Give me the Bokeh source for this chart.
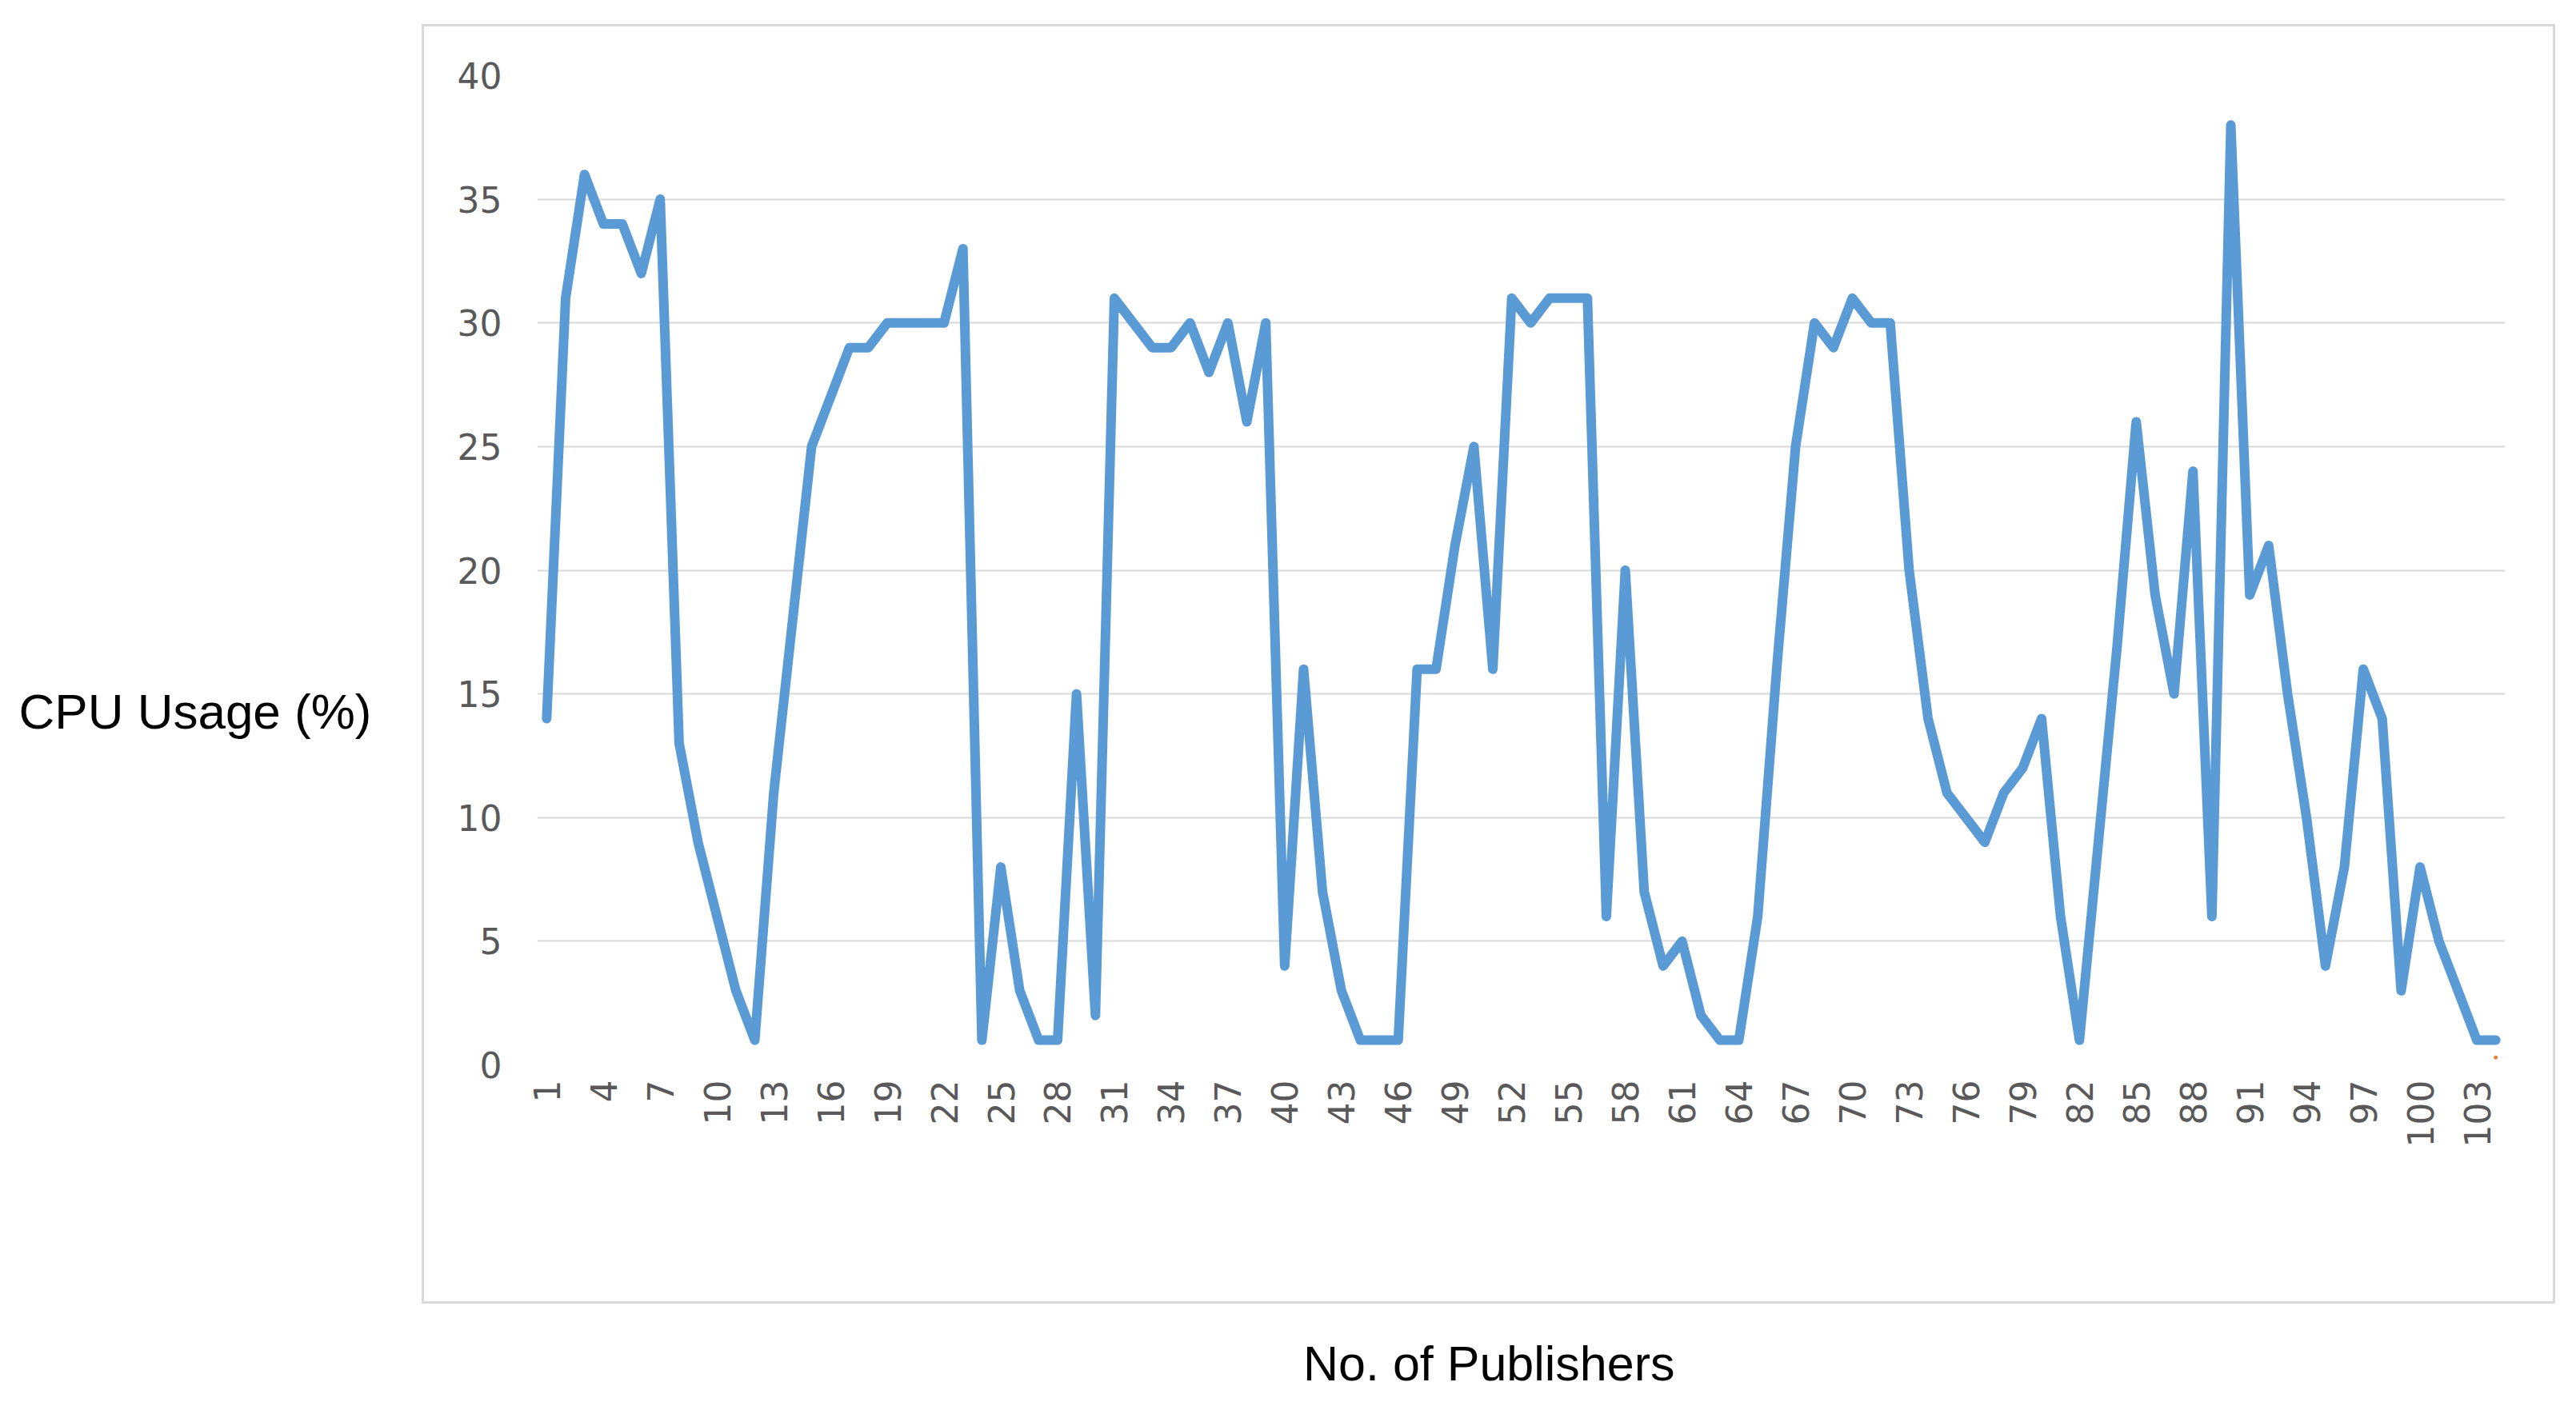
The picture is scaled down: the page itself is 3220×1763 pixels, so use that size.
import math
from bokeh.plotting import figure
from bokeh.models import (FixedTicker, LinearAxis, ColumnDataSource,
                          InlineStyleSheet)
from bokeh.embed import file_html
from bokeh.resources import INLINE

# ---- data ----
publishers = list(range(1, 105))
cpu_usage = [14, 31, 36, 34, 34, 32, 35, 13, 9, 6,
             3, 1, 11, 18, 25, 27, 29, 29, 30, 30,
             30, 30, 33, 1, 8, 3, 1, 1, 15, 2,
             31, 30, 29, 29, 30, 28, 30, 26, 30, 4,
             16, 7, 3, 1, 1, 1, 16, 16, 21, 25,
             16, 31, 30, 31, 31, 31, 6, 20, 7, 4,
             5, 2, 1, 1, 6, 16, 25, 30, 29, 31,
             30, 30, 20, 14, 11, 10, 9, 11, 12, 14,
             6, 1, 9, 17, 26, 19, 15, 24, 6, 38,
             19, 21, 15, 10, 4, 8, 16, 14, 3, 8,
             5, 3, 1, 1]
end_marker_x = [104]
end_marker_y = [0.3]
x_ticks = [1, 4, 7, 10, 13, 16, 19, 22, 25, 28, 31, 34, 37, 40, 43, 46, 49, 52,
           55, 58, 61, 64, 67, 70, 73, 76, 79, 82, 85, 88, 91, 94, 97, 100, 103]
y_ticks = [0, 5, 10, 15, 20, 25, 30, 35, 40]
x_title = "No. of Publishers"
y_title = "CPU Usage (%)"

W, H = 3200, 1745
p = figure(width=W, height=H, output_backend="svg", toolbar_location=None,
           x_range=(0.5, 104.5), y_range=(0, 40),
           min_border_left=671, min_border_right=69,
           min_border_top=94, min_border_bottom=414)
p.outline_line_color = None
p.background_fill_color = "white"
p.border_fill_color = "white"

src = ColumnDataSource(dict(x=publishers, y=cpu_usage))
p.line("x", "y", source=src, line_color="#5B9BD5", line_width=12,
       line_join="round", line_cap="round")
p.scatter(end_marker_x, end_marker_y, size=4, color="#ED7D31")


def plain(ax):
    ax.axis_line_color = None
    ax.major_tick_line_color = None
    ax.minor_tick_line_color = None
    ax.major_tick_out = 0
    ax.minor_tick_out = 0


# value and category axes
p.xaxis.ticker = FixedTicker(ticks=x_ticks)
p.yaxis.ticker = FixedTicker(ticks=y_ticks)
for ax in (p.xaxis[0], p.yaxis[0]):
    plain(ax)
    ax.major_label_text_font = "DejaVu Sans"
    ax.major_label_text_font_size = "44px"
    ax.major_label_text_color = "#595959"
p.xaxis.major_label_orientation = math.pi / 2
p.xaxis.major_label_standoff = 19
p.yaxis.major_label_standoff = 44

# y-axis title, written horizontally to the left of the value axis
y_title_at = 14.3
y_title_axis = LinearAxis(ticker=FixedTicker(ticks=[y_title_at]),
                          major_label_overrides={y_title_at: y_title})
plain(y_title_axis)
y_title_axis.major_label_orientation = "horizontal"
y_title_axis.major_label_text_font = "Liberation Sans"
y_title_axis.major_label_text_font_size = "62px"
y_title_axis.major_label_text_color = "black"
y_title_axis.major_label_standoff = 104
p.add_layout(y_title_axis, "left")

# x-axis title, centred under the chart area
x_title_at = 50.8
x_title_axis = LinearAxis(ticker=FixedTicker(ticks=[x_title_at]),
                          major_label_overrides={x_title_at: x_title})
plain(x_title_axis)
x_title_axis.major_label_orientation = "horizontal"
x_title_axis.major_label_text_font = "Liberation Sans"
x_title_axis.major_label_text_font_size = "61px"
x_title_axis.major_label_text_color = "black"
x_title_axis.major_label_standoff = 233
p.add_layout(x_title_axis, "below")

p.xgrid.grid_line_color = None
p.ygrid.grid_line_color = "#d9d9d9"
p.ygrid.grid_line_width = 2

# light border round the chart area
p.stylesheets = [InlineStyleSheet(css="""
:host { position: relative; }
:host::after {
  content: "";
  position: absolute;
  left: 527px; top: 30px; width: 2667px; height: 1600px;
  box-sizing: border-box;
  border: 3px solid #d9d9d9;
  pointer-events: none;
}
""")]

open("out.html", "w").write(file_html(p, INLINE))
